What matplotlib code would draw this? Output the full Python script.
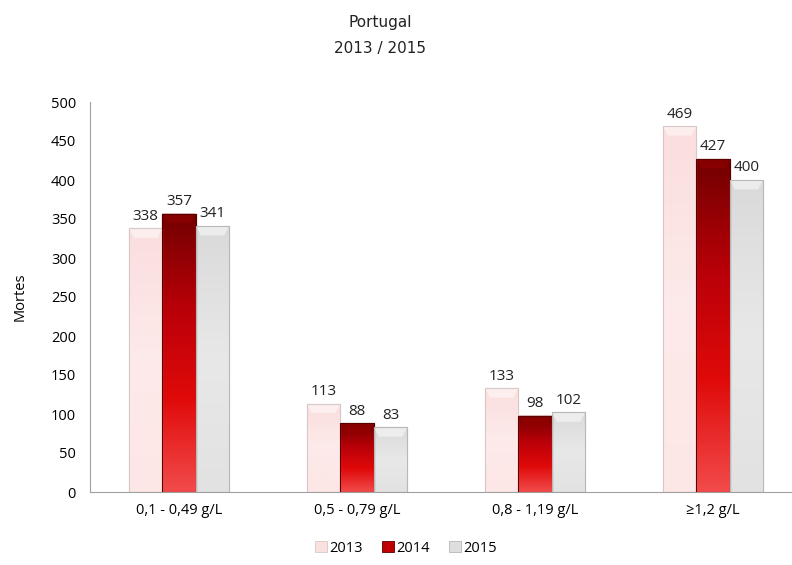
import numpy as np
import matplotlib
matplotlib.use('Agg')
import matplotlib.pyplot as plt
from matplotlib.colors import LinearSegmentedColormap

# data
categories = ['0,1 - 0,49 g/L', '0,5 - 0,79 g/L', '0,8 - 1,19 g/L', '\u22651,2 g/L']
years = ['2013', '2014', '2015']
v2013 = [338, 113, 133, 469]
v2014 = [357, 88, 98, 427]
v2015 = [341, 83, 102, 400]
yticks = [0, 50, 100, 150, 200, 250, 300, 350, 400, 450, 500]

series = [v2013, v2014, v2015]
# top -> bottom colour ramps
ramps = [['#fbdede', '#fdeaea', '#fde6e6'],
         ['#720000', '#b80008', '#e00a0a', '#f24a4a'],
         ['#dadada', '#e8e8e8', '#e2e2e2']]
edges = ['#d8c8c8', '#5a0000', '#b8b8b8']
legcol = ['#fbe0e0', '#c00000', '#dedede']
bevel = ['#ffffff', '#9a0000', '#ffffff']

plt.rcParams['font.family'] = ['Open Sans', 'DejaVu Sans']

fig = plt.figure(figsize=(7.92, 5.65), dpi=100)
ax = fig.add_axes([90/792, 73/565, 712/792, 390/565])

x = np.arange(len(categories))
w = 0.188
grad = np.linspace(0, 1, 100).reshape(-1, 1)
for i, vals in enumerate(series):
    cmap = LinearSegmentedColormap.from_list('c%d' % i, ramps[i])
    xs = x + (i - 1)*w
    bars = ax.bar(xs, vals, w, color=legcol[i], edgecolor=edges[i],
                  linewidth=0.8, zorder=2, label=years[i])
    for xc, b, v in zip(xs, bars, vals):
        x0 = b.get_x()
        im = ax.imshow(grad, cmap=cmap, aspect='auto', zorder=2.5,
                       extent=(x0, x0 + w, 0, v), origin='upper')
        im.set_clip_path(b)
        # bevel at the top
        ax.fill([x0, x0 + w, x0 + w*0.85, x0 + w*0.15],
                [v, v, v - 12, v - 12], color=bevel[i], alpha=0.5,
                zorder=2.6, lw=0)
        ax.plot([x0, x0, x0 + w, x0 + w, x0], [0, v, v, 0, 0],
                color=edges[i], lw=0.8, zorder=2.7)
        ax.text(xc, v + 6, str(v), ha='center', va='bottom',
                fontsize=11, color='#222222', zorder=3)

ax.set_xlim(-0.5, len(categories) - 0.5)
ax.set_ylim(0, 500)
ax.set_yticks(yticks)
ax.set_xticks(x)
ax.set_xticklabels(categories, fontsize=10.5)
ax.tick_params(axis='y', labelsize=10.5, length=0, pad=10)
ax.tick_params(axis='x', length=0, pad=8)
for s in ['top', 'right']:
    ax.spines[s].set_visible(False)
for s in ['left', 'bottom']:
    ax.spines[s].set_color('#a0a0a0')
ax.set_ylabel('Mortes', fontsize=10.5, labelpad=17)

fig.text(380/792, 1 - 23/565, 'Portugal', ha='center', va='center',
         fontsize=11, family='DejaVu Sans', color='#222222')
fig.text(380/792, 1 - 49/565, '2013 / 2015', ha='center', va='center',
         fontsize=11, family='DejaVu Sans', color='#222222')

handles = [plt.Rectangle((0, 0), 1, 1, fc=legcol[i], ec=edges[i], lw=0.6)
           for i in range(3)]
fig.legend(handles, years, loc='center', bbox_to_anchor=(406/792, 1 - 548/565),
           ncol=3, frameon=False, fontsize=10.5, handlelength=0.8,
           handleheight=0.8, handletextpad=0.2, columnspacing=1.3)

fig.savefig('out.png', dpi=100)
